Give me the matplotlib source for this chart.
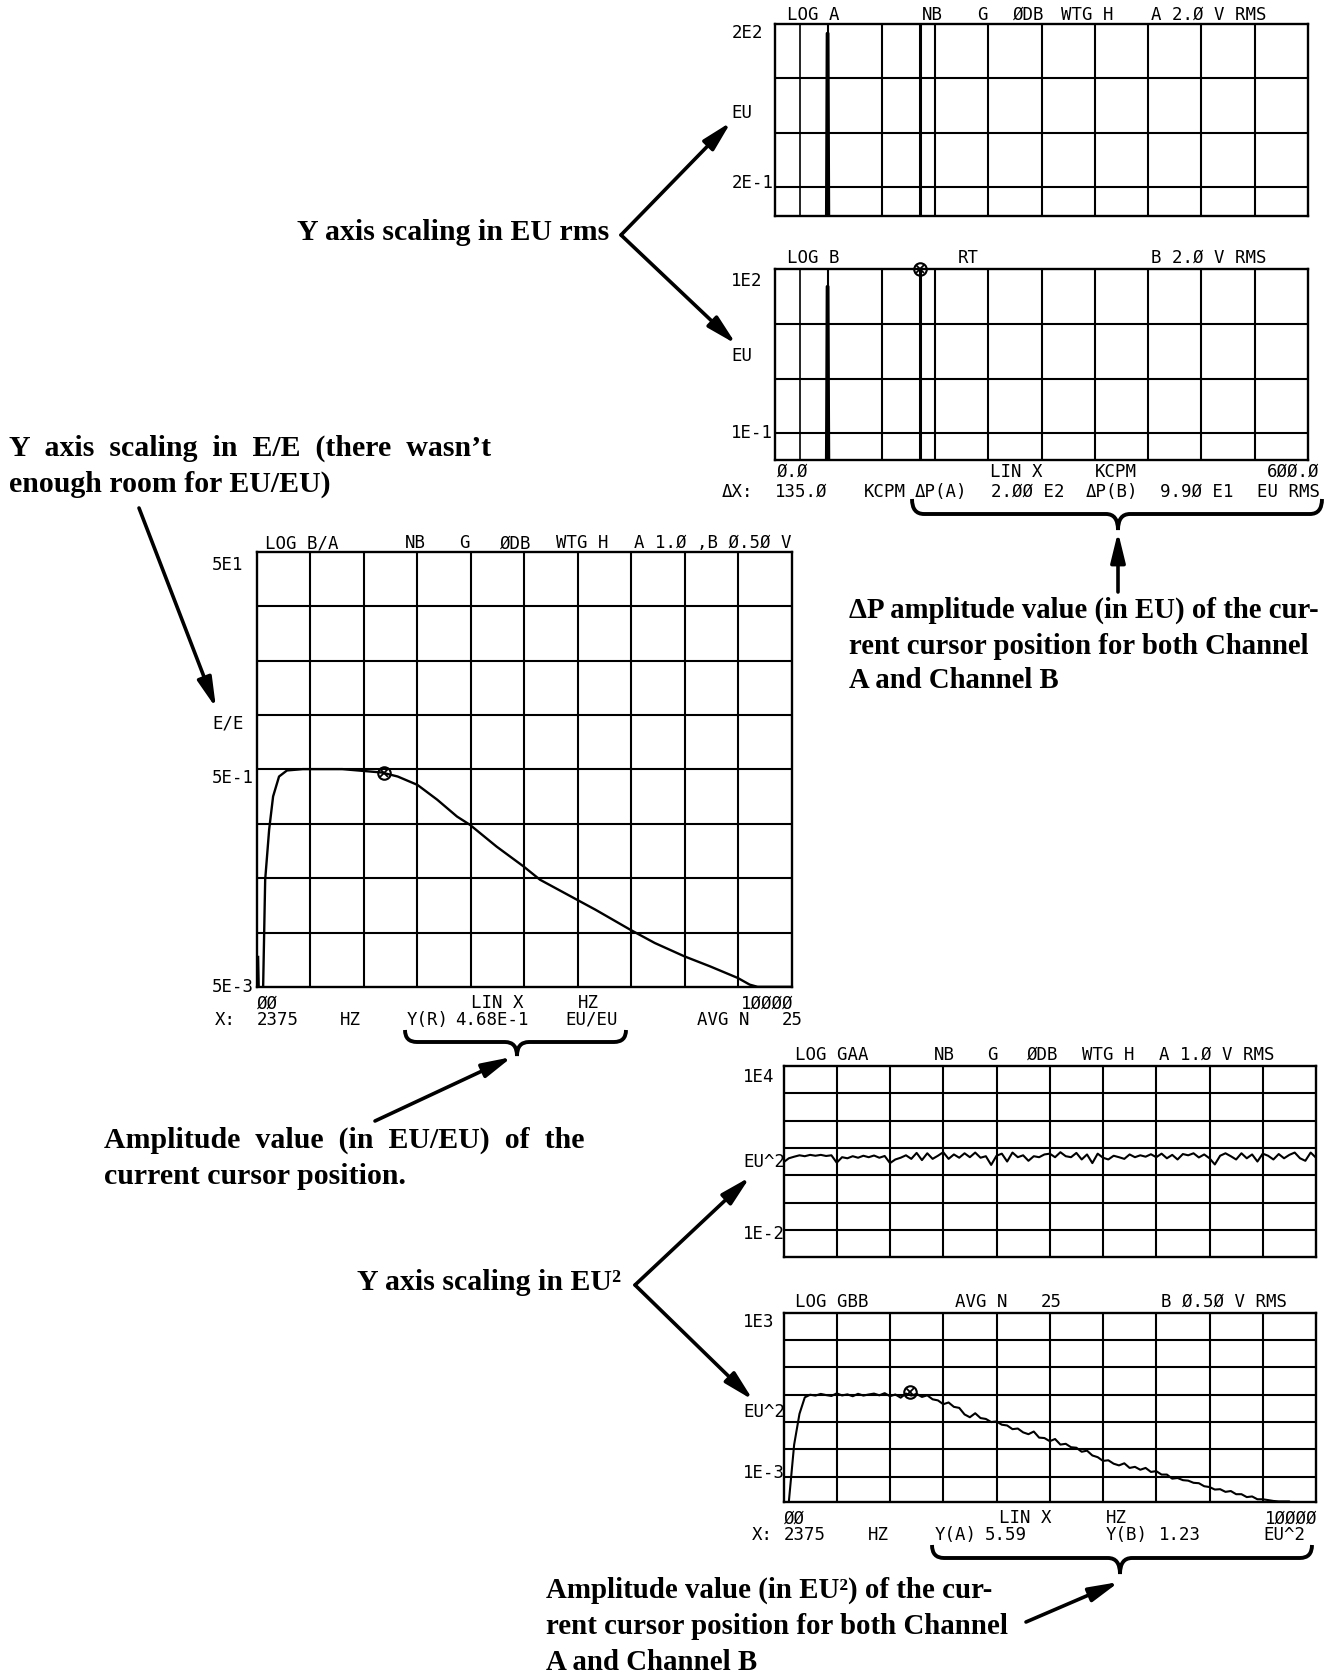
import numpy as np
import matplotlib
matplotlib.use("Agg")
import matplotlib.pyplot as plt
from matplotlib.patches import FancyArrowPatch, PathPatch
from matplotlib.path import Path
from matplotlib.ticker import NullLocator

W, H = 1327, 1679
MONO = "DejaVu Sans Mono"
SERIF = "Liberation Serif"

# ------------------------------------------------------------------ data
# Spectrum (KCPM) panels A and B
spec_x = [0, 57.6, 58.0, 58.6, 59.8, 60.4, 60.8, 600]
spec_a = [0.01, 0.01, 0.36, 135, 135, 0.36, 0.01, 0.01]
spec_b = [0.01, 0.01, 0.19, 48, 48, 0.19, 0.01, 0.01]
cursor_ref_kcpm = 28.5
cursor_kcpm = 163.5

# Transfer ratio B/A (Hz)
ratio_hz = [30, 45, 120, 162, 236, 310, 421, 569, 864, 1603, 2341, 2637, 3006,
            3375, 3744, 3988, 4483, 4985, 5295, 5982, 6329, 6979, 7437, 7991,
            8471, 8988, 9210, 9357, 10000]
ratio_val = [0.0095, 0.004, 0.004, 0.0486, 0.140, 0.283, 0.431, 0.49, 0.504,
             0.504, 0.469, 0.431, 0.361, 0.264, 0.185, 0.155, 0.098, 0.0645,
             0.0486, 0.0319, 0.0258, 0.0169, 0.01276, 0.00962, 0.00778,
             0.00609, 0.00529, 0.00505, 0.00505]

# Auto spectra, 100 Hz bins
bin_hz = 100
gaa = [3.0, 4.2, 4.8, 5.4, 5.0, 5.6, 5.2, 5.6, 5.1, 5.4,
       2.9, 4.6, 4.2, 5.0, 4.4, 5.2, 4.6, 5.3, 4.4, 5.1,
       2.8, 3.8, 4.4, 5.4, 4.0, 6.6, 3.6, 6.4, 4.0, 5.2,
       7.0, 4.0, 5.8, 4.4, 6.4, 4.6, 6.8, 4.4, 5.0, 2.4,
       5.2, 6.2, 3.2, 6.8, 4.6, 5.4, 3.4, 5.0, 4.6, 5.8,
       6.2, 4.6, 7.0, 5.0, 4.6, 6.6, 3.8, 5.8, 2.8, 6.2,
       4.4, 3.8, 5.2, 4.6, 4.0, 5.8, 4.6, 5.4, 4.8, 5.9,
       4.6, 6.2, 4.2, 5.6, 3.8, 6.0, 5.4, 6.4, 4.5, 5.8,
       4.2, 2.5, 5.2, 6.4, 5.0, 3.8, 6.4, 4.2, 5.8, 3.2,
       6.2, 5.2, 3.8, 6.0, 4.2, 5.6, 6.8, 4.2, 3.4, 6.8, 4.4]
gbb = [1e-5, 1.2e-4, 0.015, 0.2, 0.8, 1.0, 0.93, 1.07, 0.97, 0.9,
       1.12, 0.94, 1.03, 0.88, 1.08, 0.93, 1.02, 1.1, 0.95, 1.14,
       0.88, 1.02, 0.78, 1.1, 0.93, 1.07, 0.83, 0.95, 0.68, 0.62,
       0.45, 0.52, 0.36, 0.33, 0.19, 0.15, 0.21, 0.14, 0.13, 0.10,
       0.105, 0.08, 0.075, 0.055, 0.058, 0.042, 0.036, 0.045, 0.027, 0.026,
       0.02, 0.024, 0.015, 0.016, 0.012, 0.0115, 0.0082, 0.009, 0.006, 0.0052,
       0.0038, 0.004, 0.003, 0.0026, 0.0031, 0.0021, 0.0023, 0.0018, 0.0021, 0.0015,
       0.0016, 0.0012, 0.0012, 0.00085, 0.0009, 0.00075, 0.00072, 0.0006, 0.00058, 0.00045,
       0.00042, 0.00034, 0.00035, 0.00028, 0.0003, 0.00023, 0.00023, 0.00018, 0.00019, 0.00015,
       0.00015, 0.00014, 0.00013, 0.000125, 0.000125, 0.000125, 1e-5, 1e-5, 1e-5, 1e-5,
       1e-5]

cursor_hz = 2375
y_r = 0.468
y_a = 5.59
y_b = 1.23

# tick labels
a_ylabels = ["2E2", "EU", "2E-1"]
b_ylabels = ["1E2", "EU", "1E-1"]
c_ylabels = ["5E1", "E/E", "5E-1", "5E-3"]
d_ylabels = ["1E4", "EU^2", "1E-2"]
e_ylabels = ["1E3", "EU^2", "1E-3"]

# ------------------------------------------------------------------ figure
fig = plt.figure(figsize=(W / 100, H / 100), dpi=100)
fig.patch.set_facecolor("white")


def F(x, y):
    return (x / W, 1 - y / H)


def make_panel(box, xlim, ylim, xgrid, ygrid):
    l, t, r, b = box
    ax = fig.add_axes([l / W, 1 - b / H, (r - l) / W, (b - t) / H])
    ax.set_yscale("log")
    ax.set_xlim(*xlim)
    ax.set_ylim(*ylim)
    for v in xgrid:
        ax.axvline(v, color="k", lw=1.5, zorder=1)
    for v in ygrid:
        ax.axhline(v, color="k", lw=1.5, zorder=1)
    for a in (ax.xaxis, ax.yaxis):
        a.set_major_locator(NullLocator())
        a.set_minor_locator(NullLocator())
    for s in ax.spines.values():
        s.set_linewidth(1.7)
    return ax


def txt(ax, x, y, s, ha="left"):
    ax.text(x, y, s, transform=ax.transAxes, ha=ha, va="center",
            fontsize=12.5, family=MONO, clip_on=False)


def tokens(ax, y, items, xs, right=None):
    for s, x in zip(items, xs):
        txt(ax, x, y, s)
    if right is not None:
        txt(ax, right[1], y, right[0], ha="right")


def cursor_mark(ax, x, y):
    ax.plot([x], [y], marker="o", ms=9, mfc="none", mec="k", mew=1.5,
            clip_on=False, zorder=5)
    ax.plot([x], [y], marker="x", ms=5.5, mec="k", mew=1.3,
            clip_on=False, zorder=5)


# ---------------- Panel A
kc_grid = np.arange(60, 600, 60)
axA = make_panel((775, 24, 1308, 216), (0, 600), (0.0597, 200), kc_grid, [0.2, 2, 20])
axA.axvline(cursor_ref_kcpm, color="k", lw=1.2)
axA.axvline(cursor_kcpm, color="k", lw=2.2)
axA.plot(spec_x, spec_a, color="k", lw=2.0)
tokens(axA, 1.047, ["LOG A", "NB", "G", "ØDB", "WTG H"],
       [0.022, 0.276, 0.38, 0.446, 0.536], right=("A 2.Ø V RMS", 0.922))
for s, y in zip(a_ylabels, [0.955, 0.535, 0.170]):
    txt(axA, -0.082, y, s)

# ---------------- Panel B
axB = make_panel((775, 269, 1308, 460), (0, 600), (0.0325, 100), kc_grid, [0.1, 1, 10])
axB.axvline(cursor_ref_kcpm, color="k", lw=1.2)
axB.axvline(cursor_kcpm, color="k", lw=2.2)
axB.plot(spec_x, spec_b, color="k", lw=2.0)
cursor_mark(axB, cursor_kcpm, 100)
tokens(axB, 1.058, ["LOG B", "RT"], [0.022, 0.342], right=("B 2.Ø V RMS", 0.922))
for s, y in zip(b_ylabels, [0.935, 0.542, 0.14]):
    txt(axB, -0.082, y, s)
tokens(axB, -0.062, ["Ø.Ø", "LIN X", "KCPM"], [0.004, 0.404, 0.6], right=("6ØØ.Ø", 1.022))
tokens(axB, -0.165, ["ΔX:", "135.Ø", "KCPM", "ΔP(A)", "2.ØØ E2", "ΔP(B)", "9.9Ø E1"],
       [-0.1, 0.0, 0.166, 0.262, 0.406, 0.582, 0.722], right=("EU RMS", 1.022))

# ---------------- Panel C
hz_grid = np.arange(1000, 10000, 1000)
c_lines = [5e-3 * 10 ** (0.5 * i) for i in range(1, 8)]
axC = make_panel((256.5, 551.7, 792, 987.3), (0, 10000), (0.005, 50), hz_grid, c_lines)
axC.plot(ratio_hz, ratio_val, color="k", lw=1.7)
cursor_mark(axC, cursor_hz, y_r)
tokens(axC, 1.019, ["LOG B/A", "NB", "G", "ØDB", "WTG H"],
       [0.016, 0.278, 0.378, 0.454, 0.56], right=("A 1.Ø ,B Ø.5Ø V", 1.0))
for s, y in zip(c_ylabels, [0.969, 0.606, 0.480, 0.0015]):
    txt(axC, -0.083, y, s)
tokens(axC, -0.0367, ["ØØ", "LIN X", "HZ"], [0.0, 0.4, 0.6], right=("1ØØØØ", 1.002))
tokens(axC, -0.075, ["X:", "2375", "HZ", "Y(R)", "4.68E-1", "EU/EU", "AVG N"],
       [-0.078, 0.0, 0.156, 0.28, 0.37, 0.576, 0.822], right=("25", 1.02))

# ---------------- Panel D
freq = np.arange(len(gaa)) * bin_hz
axD = make_panel((783.5, 1066, 1316, 1257.3), (0, 10000), (1e-3, 1e4), hz_grid,
                 [1e-2, 1e-1, 1, 10, 100, 1000])
axD.plot(freq, gaa, color="k", lw=1.5)
tokens(axD, 1.057, ["LOG GAA", "NB", "G", "ØDB", "WTG H"],
       [0.022, 0.283, 0.383, 0.458, 0.56], right=("A 1.Ø V RMS", 0.922))
for s, y in zip(d_ylabels, [0.944, 0.50, 0.12]):
    txt(axD, -0.076, y, s)

# ---------------- Panel E
axE = make_panel((783.5, 1312.7, 1316, 1501.7), (0, 10000), (10 ** -3.913, 1e3), hz_grid,
                 [1e-3, 1e-2, 1e-1, 1, 10, 100])
axE.plot(freq, gbb, color="k", lw=1.5)
cursor_mark(axE, cursor_hz, y_b)
tokens(axE, 1.058, ["LOG GBB", "AVG N", "25"],
       [0.022, 0.323, 0.484], right=("B Ø.5Ø V RMS", 0.946))
for s, y in zip(e_ylabels, [0.949, 0.475, 0.153]):
    txt(axE, -0.076, y, s)
tokens(axE, -0.088, ["ØØ", "LIN X", "HZ"], [0.0, 0.405, 0.605], right=("1ØØØØ", 1.0034))
tokens(axE, -0.176, ["X:", "2375", "HZ", "Y(A)", "5.59", "Y(B)", "1.23"],
       [-0.06, 0.0, 0.159, 0.283, 0.378, 0.605, 0.705], right=("EU^2", 0.98))

# ------------------------------------------------------------------ annotations
def note(x, y, s, size=21.5):
    fig.text(*F(x, y), s, ha="left", va="center", fontsize=size,
             family=SERIF, weight="bold")


def arrow(p0, p1):
    fig.add_artist(FancyArrowPatch(F(*p0), F(*p1), transform=fig.transFigure,
                                   arrowstyle="-|>,head_length=0.9,head_width=0.22",
                                   mutation_scale=20, lw=2.6, color="k",
                                   shrinkA=0, shrinkB=0))


def brace(x0, x1, xc, ytop, ymid, ytip, r=12):
    verts = [F(x0, ytop), F(x0, ymid), F(x0 + r, ymid),
             F(xc - r, ymid), F(xc, ymid), F(xc, ytip),
             F(xc, ymid), F(xc + r, ymid),
             F(x1 - r, ymid), F(x1, ymid), F(x1, ytop)]
    codes = [Path.MOVETO, Path.CURVE3, Path.CURVE3,
             Path.LINETO, Path.CURVE3, Path.CURVE3,
             Path.CURVE3, Path.CURVE3,
             Path.LINETO, Path.CURVE3, Path.CURVE3]
    fig.add_artist(PathPatch(Path(verts, codes), transform=fig.transFigure,
                             fill=False, lw=2.8, color="k"))


note(297, 233, "Y axis scaling in EU rms")
arrow((621, 235), (731, 122))
arrow((621, 235), (736, 344))

note(9, 448, "Y  axis  scaling  in  E/E  (there  wasn’t")
note(9, 484, "enough room for EU/EU)")
arrow((139, 508), (216, 708))

brace(912, 1322, 1118, 499, 514, 530)
arrow((1118, 592), (1118, 532))
note(849, 610, "ΔP amplitude value (in EU) of the cur-", 20.7)
note(849, 647, "rent cursor position for both Channel", 20.7)
note(849, 681, "A and Channel B", 20.7)

brace(405, 626, 517, 1030, 1042, 1056)
arrow((375, 1121), (512, 1057))
note(104, 1140, "Amplitude  value  (in  EU/EU)  of  the")
note(104, 1177, "current cursor position.")

note(357, 1283, "Y axis scaling in EU²")
arrow((635, 1285), (750, 1177))
arrow((635, 1285), (753, 1400))

brace(932, 1312, 1120, 1545, 1558, 1574)
arrow((1026, 1622), (1119, 1582))
note(546, 1590, "Amplitude value (in EU²) of the cur-", 20.8)
note(546, 1627, "rent cursor position for both Channel", 20.8)
note(546, 1662, "A and Channel B", 20.8)

fig.savefig("out.png", dpi=100, facecolor="white")
